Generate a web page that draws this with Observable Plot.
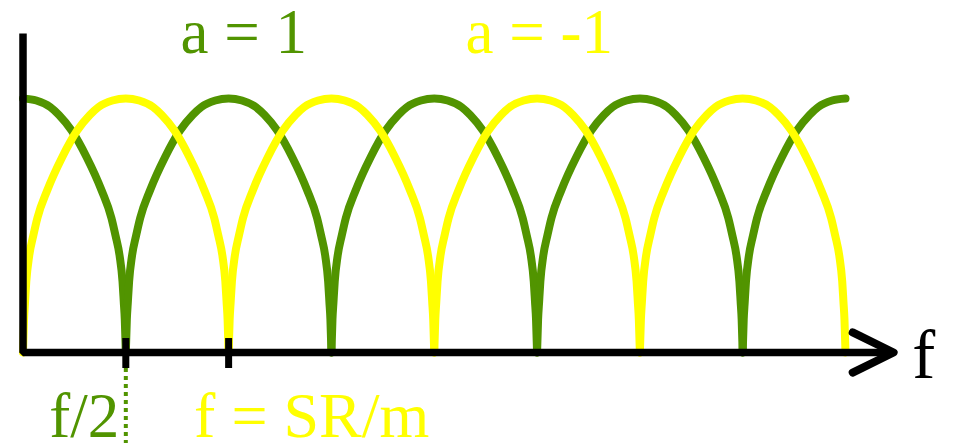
<!DOCTYPE html>
<html>
<head>
<meta charset="utf-8">
<script src="https://cdn.jsdelivr.net/npm/d3@7"></script>
<script src="https://cdn.jsdelivr.net/npm/@observablehq/plot@0.6"></script>
<style>
  html, body { margin: 0; padding: 0; background: #fff; }
  #chart svg { display: block; }
</style>
</head>
<body>
<div id="chart"></div>
<script>
// Comb filter magnitude response: feed-forward gain a = 1 versus a = -1.
// Frequency is in units of SR/m; magnitude is normalised to the peak.

const GREEN = "#519400";
const YELLOW = "#ffff00";

// Shape of one half-arc, from a notch (0) up to a peak (1).
const notchToPeak = [0, 0.01, 0.02, 0.032, 0.06, 0.1, 0.14, 0.235, 0.381, 0.527, 0.65, 0.734, 0.87, 1];
const arcHeight   = [0, 0.13, 0.2, 0.28, 0.38, 0.46, 0.53, 0.638, 0.769, 0.874, 0.935, 0.966, 0.992, 1];

// Peak frequencies of each response (notches sit halfway between peaks).
const peaksPlus  = [0, 1, 2, 3, 4];         // a = 1
const peaksMinus = [0.5, 1.5, 2.5, 3.5];    // a = -1

const fMax = 4;          // end of the drawn responses
const axisTop = 1.256;   // top of the magnitude axis
const axisEnd = 4.234;   // tip of the frequency arrow
const arrowBack = 4.035, arrowHalf = 0.079;

const tickValues = [0.5, 1];
const tickLabels = ["f/2", "f = SR/m"];

// Build one path per peak: rising half then falling half, kept within [0, fMax].
function arcs(peaks, series) {
  const rows = [];
  peaks.forEach((p, k) => {
    notchToPeak.forEach((t, i) => {
      const x = p - 0.5 + 0.5 * t;
      if (x >= 0 && x <= fMax) rows.push({x, y: arcHeight[i], arc: `${series}-${k}`});
    });
    for (let i = notchToPeak.length - 2; i >= 0; i--) {
      const x = p + 0.5 - 0.5 * notchToPeak[i];
      if (x >= 0 && x <= fMax) rows.push({x, y: arcHeight[i], arc: `${series}-${k}`});
    }
  });
  return rows;
}

const plusArcs = arcs(peaksPlus, "plus");
const minusArcs = arcs(peaksMinus, "minus");

const axisPath = [{x: 0, y: axisTop}, {x: 0, y: 0}, {x: axisEnd, y: 0}];
const arrowHead = [{x: arrowBack, y: arrowHalf}, {x: axisEnd, y: 0}, {x: arrowBack, y: -arrowHalf}];

const labels = [
  {x: 0.766, y: 1.181, text: "a = 1", color: GREEN, size: 63},
  {x: 2.152, y: 1.181, text: "a = -1", color: YELLOW, size: 63},
  {x: 0.128, y: -0.331, text: tickLabels[0], color: GREEN, size: 63},
  {x: 0.832, y: -0.331, text: tickLabels[1], color: YELLOW, size: 64},
  {x: 4.325, y: -0.102, text: "f", color: "#000", size: 69}
];

const chart = Plot.plot({
  width: 953,
  height: 443,
  margin: 0,
  style: {background: "#fff"},
  x: {domain: [0, fMax], range: [22.5, 845], axis: null},
  y: {domain: [0, 1], range: [352, 98], axis: null},
  marks: [
    Plot.line(plusArcs, {x: "x", y: "y", z: "arc", stroke: GREEN, strokeWidth: 8, curve: "monotone-x"}),
    Plot.line(minusArcs, {x: "x", y: "y", z: "arc", stroke: YELLOW, strokeWidth: 8, curve: "monotone-x"}),
    // dotted guide below the f/2 tick
    Plot.ruleX([tickValues[0]], {y1: 0, y2: -0.36, stroke: GREEN, strokeWidth: 4, strokeDasharray: "4,4"}),
    Plot.line(axisPath, {x: "x", y: "y", stroke: "#000", strokeWidth: 7.5, strokeLinejoin: "miter", strokeLinecap: "butt"}),
    Plot.line(arrowHead, {x: "x", y: "y", stroke: "#000", strokeWidth: 8, strokeLinejoin: "round", strokeLinecap: "round"}),
    Plot.ruleX(tickValues, {y1: 0.055, y2: -0.063, stroke: "#000", strokeWidth: 7}),
    Plot.text(labels, {
      x: "x", y: "y", text: "text", fill: "color", fontSize: "size",
      textAnchor: "start", lineAnchor: "bottom",
      fontFamily: "Liberation Serif, Times New Roman, serif"
    })
  ]
});

document.getElementById("chart").append(chart);
</script>
</body>
</html>
